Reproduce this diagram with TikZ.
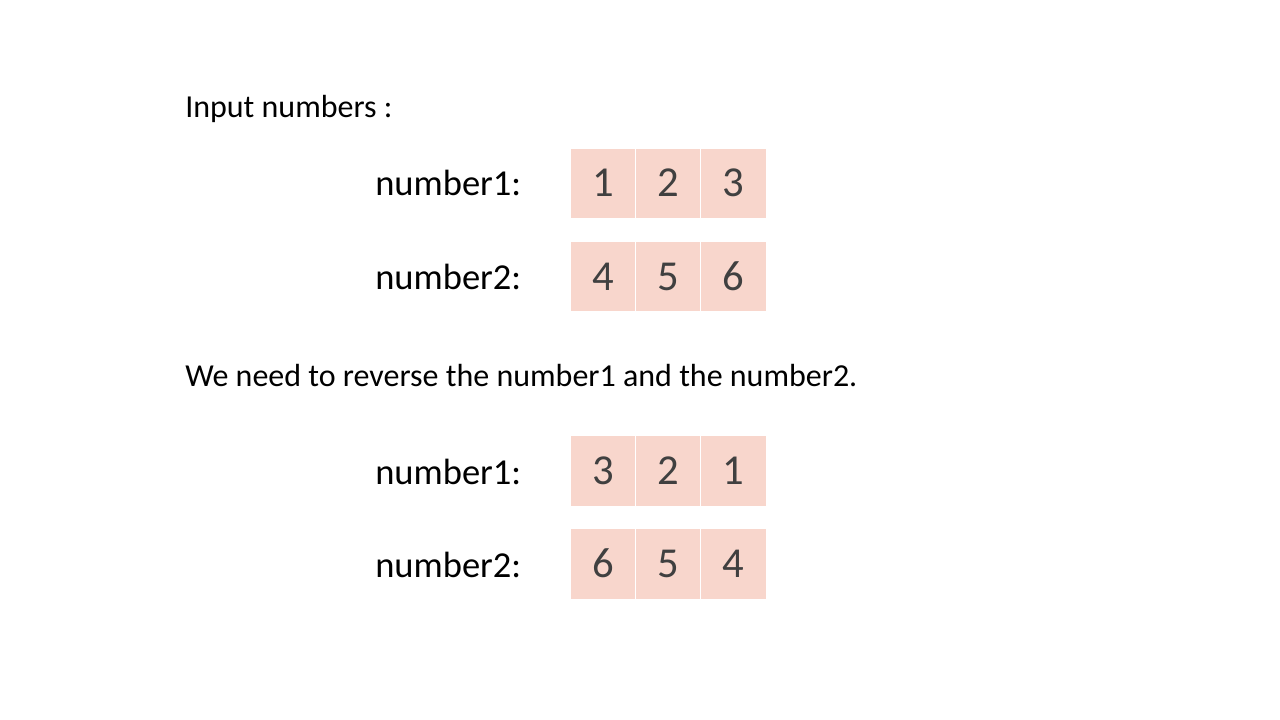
\documentclass[tikz,border=0pt]{standalone}
\usepackage{fontspec}
\setmainfont{Carlito}
\usepackage{xcolor}
\usetikzlibrary{positioning}
\definecolor{cellpeach}{HTML}{F8D6CC}
\definecolor{digitgray}{HTML}{404040}
\tikzset{
  cell/.style={rectangle,fill=cellpeach,draw=white,line width=0.75pt,minimum width=49.5pt,minimum height=53pt,inner sep=0pt,text height=20.25pt,text depth=0pt,text=digitgray,font=\fontsize{32}{36}\selectfont},
  rowlabel/.style={anchor=base west,inner sep=0pt,font=\fontsize{27.4}{32}\selectfont},
  heading/.style={anchor=base west,inner sep=0pt,font=\fontsize{24}{28}\selectfont}
}
\begin{document}
\begin{tikzpicture}[x=0.75pt,y=-0.75pt]
\useasboundingbox (0,0) rectangle (1280,720);
\node[heading] (title) at (185,118) {Input numbers :};
\node[rowlabel] (lab1) at (375,196) {number1:};
\node[rowlabel] (lab2) at (375,289) {number2:};
\node[heading] (note) at (185,386) {We need to reverse the number1 and the number2.};
\node[rowlabel] (lab3) at (375,484) {number1:};
\node[rowlabel] (lab4) at (375,577) {number2:};
\foreach \d [count=\i] in {1,2,3}
  \node[cell] (a\i) at (603.5+65*\i-65,183.5) {\d};
\foreach \d [count=\i] in {4,5,6}
  \node[cell] (b\i) at (603.5+65*\i-65,276.5) {\d};
\foreach \d [count=\i] in {3,2,1}
  \node[cell] (c\i) at (603.5+65*\i-65,471) {\d};
\foreach \d [count=\i] in {6,5,4}
  \node[cell] (e\i) at (603.5+65*\i-65,564) {\d};
\end{tikzpicture}
\end{document}
